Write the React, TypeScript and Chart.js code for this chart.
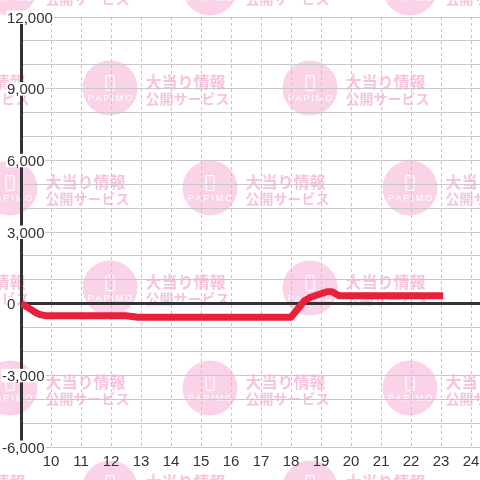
import React, { useEffect, useRef } from "react";
import { Chart, registerables } from "chart.js";

Chart.register(...registerables);

// Data (hour of day -> cumulative difference)
const HOURS = [9, 9.1, 9.3, 9.5, 9.65, 9.85, 12.5, 12.9, 18.0, 18.45, 18.65, 19.2, 19.37, 19.6, 23.07];
const DIFF = [0, -60, -220, -380, -460, -510, -510, -570, -570, 120, 270, 500, 500, 330, 330];

const X_MIN = 9;
const X_MAX = 24.3;
const X_TICKS = [9, 10, 11, 12, 13, 14, 15, 16, 17, 18, 19, 20, 21, 22, 23, 24];
const X_LABELS = [10, 11, 12, 13, 14, 15, 16, 17, 18, 19, 20, 21, 22, 23, 24];
const Y_MIN = -6000;
const Y_MAX = 12000;
const Y_LABELS = [-6000, -3000, 0, 3000, 6000, 9000, 12000];

const LABEL_FONT = '15px "Liberation Sans", Arial, sans-serif';
const TEXT_COLOR = "#333333";

function drawMark(ctx: CanvasRenderingContext2D, cx: number, cy: number) {
  ctx.save();
  ctx.fillStyle = "#fad3e8";
  ctx.beginPath();
  ctx.arc(cx, cy, 27.5, 0, Math.PI * 2);
  ctx.fill();
  // phone icon
  ctx.strokeStyle = "#ffffff";
  ctx.lineWidth = 1.2;
  ctx.beginPath();
  (ctx as any).roundRect(cx - 4, cy - 12.5, 8, 15, 1.5);
  ctx.stroke();
  ctx.beginPath();
  ctx.moveTo(cx - 1, cy - 10.5);
  ctx.lineTo(cx + 1, cy - 10.5);
  ctx.stroke();
  // PAPIMO
  ctx.fillStyle = "#ffffff";
  ctx.font = '9px "Liberation Sans Narrow", "Liberation Sans", sans-serif';
  (ctx as any).letterSpacing = "2px";
  ctx.textAlign = "center";
  ctx.textBaseline = "middle";
  ctx.fillText("PAPIMO", cx + 1, cy + 11);
  (ctx as any).letterSpacing = "0px";
  // texts
  ctx.fillStyle = "#f6c4de";
  ctx.textAlign = "left";
  ctx.font = 'bold 16px "Noto Sans CJK JP", sans-serif';
  ctx.fillText("大当り情報", cx + 35.5, cy - 6);
  ctx.font = 'bold 14px "Noto Sans CJK JP", sans-serif';
  ctx.fillText("公開サービス", cx + 35.5, cy + 11);
  ctx.restore();
}

const watermarkPlugin = {
  id: "watermark",
  beforeDraw(chart: any) {
    const ctx: CanvasRenderingContext2D = chart.ctx;
    ctx.save();
    ctx.fillStyle = "#ffffff";
    ctx.fillRect(0, 0, chart.width, chart.height);
    for (let j = 0; j < 6; j++) {
      const cy = -12 + 100 * j;
      const off = j % 2 === 1 ? 100 : 0;
      for (let cx = 10 + off - 200; cx < chart.width + 200; cx += 200) {
        drawMark(ctx, cx, cy);
      }
    }
    ctx.restore();
  },
};

const labelPlugin = {
  id: "axisLabels",
  beforeDatasetsDraw(chart: any) {
    const ctx: CanvasRenderingContext2D = chart.ctx;
    const ys = chart.scales.y;
    const xs = chart.scales.x;
    ctx.save();
    ctx.font = LABEL_FONT;
    ctx.textBaseline = "alphabetic";
    ctx.textAlign = "left";
    for (const v of Y_LABELS) {
      const y = ys.getPixelForValue(v);
      const text = v.toLocaleString("en-US");
      const minusW = v < 0 ? ctx.measureText("-").width : 0;
      const x = 7 - minusW;
      const w = ctx.measureText(text).width;
      const base = y + 5.5;
      ctx.fillStyle = "#ffffff";
      ctx.fillRect(x - 1, base - 12, w + 2, 13.5);
      ctx.fillStyle = TEXT_COLOR;
      ctx.fillText(text, x, base);
    }
    ctx.textAlign = "center";
    for (const h of X_LABELS) {
      const x = xs.getPixelForValue(h);
      ctx.fillStyle = TEXT_COLOR;
      ctx.fillText(String(h), x, 466);
    }
    ctx.restore();
  },
};

export default function App() {
  const ref = useRef<HTMLCanvasElement | null>(null);
  useEffect(() => {
    if (!ref.current) return;
    const chart = new Chart(ref.current, {
      type: "line",
      data: {
        datasets: [
          {
            data: HOURS.map((h, i) => ({ x: h, y: DIFF[i] })),
            borderColor: "#e8203a",
            borderWidth: 7,
            pointRadius: 0,
            tension: 0,
            borderJoinStyle: "round",
            borderCapStyle: "butt",
            fill: false,
          },
        ],
      },
      options: {
        animation: false,
        responsive: false,
        layout: { padding: { left: 21, top: 17, bottom: 33, right: 0 } },
        plugins: { legend: { display: false }, tooltip: { enabled: false } },
        scales: {
          x: {
            type: "linear",
            min: X_MIN,
            max: X_MAX,
            afterBuildTicks: (scale: any) => {
              scale.ticks = X_TICKS.map((v) => ({ value: v }));
            },
            ticks: { display: false },
            grid: { color: "#c4c4c4", lineWidth: 1, drawTicks: false },
            border: { display: false, dash: [3, 3] },
          },
          y: {
            type: "linear",
            min: Y_MIN,
            max: Y_MAX,
            ticks: { display: false, stepSize: 1000 },
            grid: {
              drawTicks: false,
              color: (c: any) => (c.tick && c.tick.value === 0 ? "#333333" : "#c8c8c8"),
              lineWidth: (c: any) => (c.tick && c.tick.value === 0 ? 3 : 1),
            },
            border: { display: true, color: "#333333", width: 3 },
          },
        },
      },
      plugins: [watermarkPlugin, labelPlugin],
    } as any);
    return () => chart.destroy();
  }, []);
  return (
    <div style={{ position: "absolute", left: 0, top: 0, width: 480, height: 480 }}>
      <canvas ref={ref} width={480} height={480} style={{ display: "block" }} />
    </div>
  );
}
